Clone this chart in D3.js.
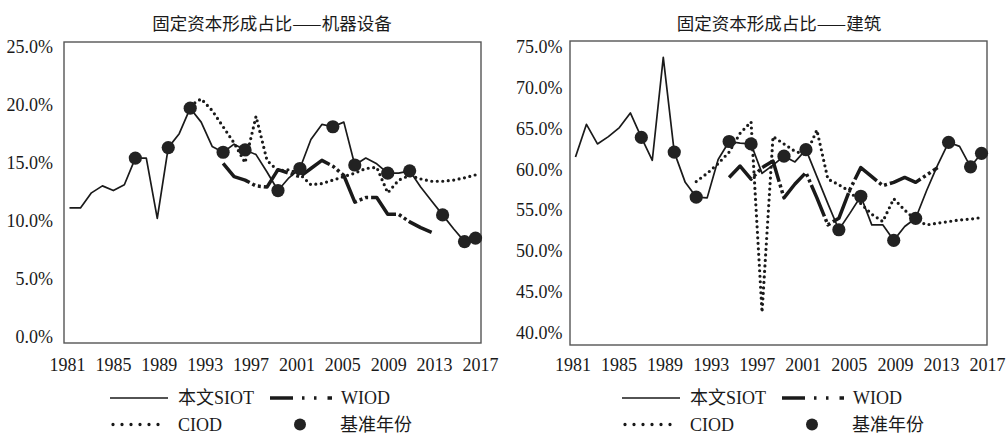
<!DOCTYPE html>
<html>
<head>
<meta charset="utf-8">
<script src="https://cdn.jsdelivr.net/npm/d3@7"></script>
<style>
  body { margin: 0; background: #fff; }
  svg { display: block; }
</style>
</head>
<body>
<svg id="chart" width="1006" height="435"></svg>
<script>
// Categories
const years = [1981, 1982, 1983, 1984, 1985, 1986, 1987, 1988, 1989, 1990,
  1991, 1992, 1993, 1994, 1995, 1996, 1997, 1998, 1999, 2000,
  2001, 2002, 2003, 2004, 2005, 2006, 2007, 2008, 2009, 2010,
  2011, 2012, 2013, 2014, 2015, 2016, 2017, 2018];
const labelYears = [1981, 1985, 1989, 1993, 1997, 2001, 2005, 2009, 2013, 2017];
const baseYears = [1987, 1990, 1992, 1995, 1997, 2000, 2002, 2005, 2007, 2010, 2012, 2015, 2017, 2018];

// Machinery & equipment share of GFCF (%)
const machSIOT = [11.1, 11.1, 12.4, 13.0, 12.6, 13.1, 15.4, 15.4, 10.2, 16.3,
  17.5, 19.7, 18.5, 16.4, 15.9, 16.6, 16.1, 15.7, 14.2, 12.6,
  13.7, 14.5, 17.0, 18.3, 18.1, 18.5, 14.8, 15.4, 14.9, 14.1,
  14.1, 14.3, 12.9, 11.7, 10.5, 9.3, 8.2, 8.5];
const machWIOD = [null, null, null, null, null, null, null, null, null, null,
  null, null, null, null, 14.95, 13.8, 13.5, 13.0, 12.9, 14.4,
  14.1, 13.8, 14.5, 15.2, 14.7, 13.9, 11.6, 12.0, 12.0, 10.55,
  10.55, 9.9, 9.4, 9.0, null, null, null, null];
const machCIOD = [null, null, null, null, null, null, null, null, null, null,
  null, 19.9, 20.5, 19.5, 18.1, 16.7, 15.0, 19.0, 15.2, 14.3,
  14.4, 14.0, 13.1, 13.2, 13.5, 13.8, 14.1, 14.5, 14.6, 12.4,
  13.5, 13.9, 13.6, 13.4, 13.4, 13.5, 13.7, 13.95];
const machTicks = [0, 5, 10, 15, 20, 25];

// Construction share of GFCF (%)
const consSIOT = [61.5, 65.5, 63.1, 64.0, 65.1, 66.9, 63.9, 61.1, 73.7, 62.1,
  58.4, 56.6, 56.5, 61.2, 63.4, 63.2, 63.1, 59.5, 60.5, 61.6,
  60.9, 62.4, 59.1, 55.8, 52.6, 54.6, 56.7, 53.2, 53.2, 51.3,
  53.0, 54.0, 57.4, 60.5, 63.3, 62.8, 60.3, 61.95];
const consWIOD = [null, null, null, null, null, null, null, null, null, null,
  null, null, null, null, 59.0, 60.4, 58.8, 60.2, 61.0, 56.5,
  58.2, 59.6, 56.5, 53.2, 54.0, 57.5, 60.2, 59.1, 58.0, 58.4,
  59.0, 58.4, 59.3, 60.2, null, null, null, null];
const consCIOD = [null, null, null, null, null, null, null, null, null, null,
  null, 58.5, 59.5, 60.7, 62.1, 64.4, 65.8, 42.5, 64.0, 63.1,
  62.2, 61.8, 64.8, 58.8, 58.1, 57.3, 55.8, 54.5, 53.6, 56.4,
  55.0, 53.8, 53.2, 53.4, 53.6, 53.8, 53.9, 54.1];
const consTicks = [40, 45, 50, 55, 60, 65, 70, 75];

const INK = '#1a1a1a';
const LATIN = "'Liberation Serif', 'Noto Sans CJK SC', serif";
const CJK = "'Noto Sans CJK SC', sans-serif";

const svg = d3.select('#chart');

function drawPanel(cfg) {
  const g = svg.append('g');
  const f = cfg.frame;

  const x = d3.scalePoint().domain(years).range([f.x0, f.x1]).padding(0.5);
  const xLabel = d3.scalePoint().domain(labelYears).range(cfg.labelRange);
  const y = d3.scaleLinear().domain(d3.extent(cfg.ticks)).range(cfg.yRange);

  // Title
  g.append('text')
    .attr('x', cfg.titleX).attr('y', 22)
    .attr('text-anchor', 'middle')
    .attr('dominant-baseline', 'central')
    .attr('font-family', CJK).attr('font-size', 17.5)
    .attr('fill', INK)
    .text(cfg.title);

  // Plot frame
  g.append('rect')
    .attr('x', f.x0).attr('y', f.y0)
    .attr('width', f.x1 - f.x0).attr('height', f.y1 - f.y0)
    .attr('fill', 'none').attr('stroke', '#555').attr('stroke-width', 1.4);

  // Y axis labels
  g.append('g')
    .attr('transform', `translate(${f.x0},0)`)
    .call(d3.axisLeft(y).tickValues(cfg.ticks).tickSize(0).tickPadding(cfg.yPad)
      .tickFormat(d => d.toFixed(1) + '%'))
    .call(a => a.select('.domain').remove())
    .attr('font-family', LATIN).attr('font-size', 18).attr('color', INK);

  // X axis labels
  g.append('g')
    .attr('transform', 'translate(0,358)')
    .call(d3.axisBottom(xLabel).tickSize(0).tickPadding(0))
    .call(a => a.select('.domain').remove())
    .attr('font-family', LATIN).attr('font-size', 18).attr('color', INK);

  const line = d3.line()
    .defined(d => d.v != null)
    .x(d => x(d.year))
    .y(d => y(d.v));
  const series = arr => years.map((year, i) => ({ year, v: arr[i] }));

  // SIOT
  g.append('path').datum(series(cfg.siot))
    .attr('d', line).attr('fill', 'none')
    .attr('stroke', INK).attr('stroke-width', 1.7).attr('stroke-linejoin', 'round');

  // WIOD
  g.append('path').datum(series(cfg.wiod))
    .attr('d', line).attr('fill', 'none')
    .attr('stroke', INK).attr('stroke-width', 3.5).attr('stroke-linejoin', 'round')
    .attr('stroke-dasharray', '34,3,3,3,3,3');

  // CIOD
  g.append('path').datum(series(cfg.ciod))
    .attr('d', line).attr('fill', 'none')
    .attr('stroke', INK).attr('stroke-width', 3.2)
    .attr('stroke-linecap', 'round').attr('stroke-dasharray', '0,5.5');

  // Base-year markers on SIOT
  const base = series(cfg.siot).filter(d => baseYears.includes(d.year));
  g.append('g').selectAll('circle')
    .data(base).join('circle')
    .attr('cx', d => x(d.year)).attr('cy', d => y(d.v))
    .attr('r', 6.6).attr('fill', '#222');

  // Legend
  const lg = g.append('g').attr('transform', `translate(${cfg.legendX},0)`);
  const r1 = 398, r2 = 424.5;
  lg.append('line').attr('x1', 0).attr('x2', 58).attr('y1', r1).attr('y2', r1)
    .attr('stroke', INK).attr('stroke-width', 1.7);
  lg.append('line').attr('x1', 160).attr('x2', 222).attr('y1', r1).attr('y2', r1)
    .attr('stroke', INK).attr('stroke-width', 3.5)
    .attr('stroke-dasharray', '23,9,2.5,9.5,2.5,11,5');
  lg.append('line').attr('x1', 3).attr('x2', 57).attr('y1', r2).attr('y2', r2)
    .attr('stroke', INK).attr('stroke-width', 3.3)
    .attr('stroke-linecap', 'round').attr('stroke-dasharray', '0,9');
  lg.append('circle').attr('cx', 190).attr('cy', r2).attr('r', 6).attr('fill', '#222');

  const legendText = [
    { t: '本文SIOT', x: 68, y: r1 },
    { t: 'WIOD', x: 231, y: r1 },
    { t: 'CIOD', x: 68, y: r2 },
    { t: '基准年份', x: 230, y: r2 }
  ];
  lg.selectAll('text').data(legendText).join('text')
    .attr('x', d => d.x).attr('y', d => d.y)
    .attr('dominant-baseline', 'central')
    .attr('font-family', LATIN).attr('font-size', 18).attr('fill', INK)
    .text(d => d.t);
}

drawPanel({
  title: '固定资本形成占比——机器设备',
  titleX: 272,
  frame: { x0: 64, x1: 481, y0: 42, y1: 343 },
  yRange: [336.7, 46.7],
  ticks: machTicks,
  yPad: 11,
  labelRange: [67, 480],
  siot: machSIOT, wiod: machWIOD, ciod: machCIOD,
  legendX: 110
});

drawPanel({
  title: '固定资本形成占比——建筑',
  titleX: 779,
  frame: { x0: 570, x1: 987, y0: 41, y1: 345 },
  yRange: [332.7, 46.7],
  ticks: consTicks,
  yPad: 7.5,
  labelRange: [572.5, 987],
  siot: consSIOT, wiod: consWIOD, ciod: consCIOD,
  legendX: 622
});
</script>
</body>
</html>
